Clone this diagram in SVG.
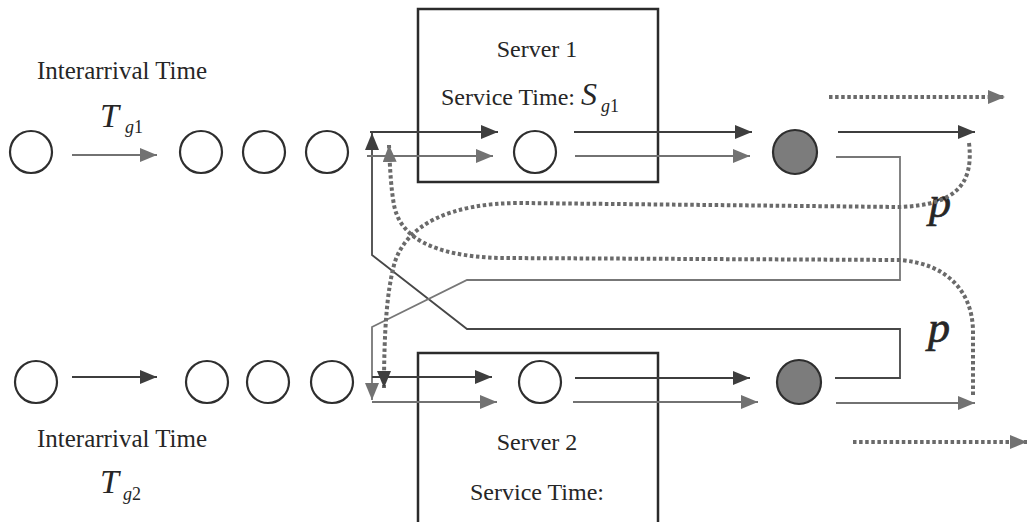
<svg xmlns="http://www.w3.org/2000/svg" width="1030" height="522" viewBox="0 0 1030 522">
<style>
.lbl{font-family:"Liberation Serif","Times New Roman",serif;font-size:24px;fill:#262626}
.ia{font-size:25px}
.math{font-family:"Liberation Serif","Times New Roman",serif;font-style:italic;fill:#262626}
.pp{stroke:#262626;stroke-width:0.7}
.up{font-style:normal}
.box{fill:none;stroke:#2b2b2b;stroke-width:2.5}
.q{fill:#fff;stroke:#2e2e2e;stroke-width:2.2}
.done{fill:#7c7c7c;stroke:#2e2e2e;stroke-width:2.2}
.dk{fill:none;stroke:#3e3e3e;stroke-width:2.2}
.gr{fill:none;stroke:#727272;stroke-width:2.2}
.thin-dk{fill:none;stroke:#474747;stroke-width:1.8}
.thin-gr{fill:none;stroke:#777;stroke-width:1.8}
.dot{fill:none;stroke:#6a6a6a;stroke-width:4;stroke-dasharray:3.5 2.6}
</style>
<defs>
<marker id="ahD" markerUnits="userSpaceOnUse" markerWidth="17" markerHeight="14" refX="17" refY="7" orient="auto"><path d="M0,0 L17,7 L0,14 z" fill="#3e3e3e"/></marker>
<marker id="ahG" markerUnits="userSpaceOnUse" markerWidth="17" markerHeight="14" refX="17" refY="7" orient="auto"><path d="M0,0 L17,7 L0,14 z" fill="#727272"/></marker>
</defs>
<rect width="1030" height="522" fill="#fff"/>

<g id="server1">
<rect class="box" x="418" y="9" width="240" height="173"/>
<text class="lbl" x="537" y="57" text-anchor="middle">Server 1</text>
<text class="lbl" x="441" y="105">Service Time: <tspan class="math" font-size="32">S</tspan><tspan class="math" font-size="18" dx="4" dy="7">g<tspan class="up">1</tspan></tspan></text>
</g>
<g id="server2">
<rect class="box" x="418" y="353" width="240" height="180"/>
<text class="lbl" x="537" y="450" text-anchor="middle">Server 2</text>
<text class="lbl" x="537" y="500" text-anchor="middle">Service Time:</text>
</g>

<g id="label-top">
<text class="lbl ia" x="37" y="79">Interarrival Time</text>
<text class="math" x="100" y="127" font-size="34">T<tspan font-size="18" dx="6" dy="6">g<tspan class="up">1</tspan></tspan></text>
</g>
<g id="label-bottom">
<text class="lbl ia" x="37" y="447">Interarrival Time</text>
<text class="math" x="100" y="493" font-size="34">T<tspan font-size="18" dx="4" dy="7">g<tspan class="up">2</tspan></tspan></text>
</g>
<g id="p-top"><text class="math pp" x="929" y="217" font-size="44">p</text></g>
<g id="p-bottom"><text class="math pp" x="928" y="342" font-size="44">p</text></g>

<g id="connectors">
<path class="gr" d="M72,155 L157,155" marker-end="url(#ahG)"/>
<path class="dk" d="M72,377 L157,377" marker-end="url(#ahD)"/>
<path class="thin-dk" d="M835,378 L900,378 L900,329 L467,329 L372,255 L372,133" marker-end="url(#ahD)"/>
<path class="dk" d="M370,132 L498,132" marker-end="url(#ahD)"/>
<path class="gr" d="M367,156 L493,156" marker-end="url(#ahG)"/>
<path class="thin-gr" d="M836,157 L900,157 L900,280 L467,280 L372,327 L372,400" marker-end="url(#ahG)"/>
<path class="dk" d="M372,377 L492,377" marker-end="url(#ahD)"/>
<path class="gr" d="M372,402 L497,402" marker-end="url(#ahG)"/>
<path class="dk" d="M574,132 L752,132" marker-end="url(#ahD)"/>
<path class="gr" d="M575,156 L750,156" marker-end="url(#ahG)"/>
<path class="dk" d="M575,378 L750,378" marker-end="url(#ahD)"/>
<path class="gr" d="M573,402 L758,402" marker-end="url(#ahG)"/>
<path class="dk" d="M838,132 L975,132" marker-end="url(#ahD)"/>
<path class="gr" d="M836,403 L975,403" marker-end="url(#ahG)"/>
<path class="dot" d="M829,97 L1005,97" marker-end="url(#ahG)"/>
<path class="dot" d="M853,442 L1027,442" marker-end="url(#ahG)"/>
<path class="dot" d="M969,143 C974,185 955,205 900,207 L520,203 C450,203 405,225 394,265 C387,292 384,330 384,388" marker-end="url(#ahD)"/>
<path class="dot" d="M973,395 L973,330 C972,292 948,264 900,260 L500,258 C430,256 400,236 394,205 C391,188 390,170 389,145" marker-end="url(#ahG)"/>
</g>

<g id="queue1">
<circle class="q" cx="31" cy="152" r="21"/>
<circle class="q" cx="201" cy="152" r="21"/>
<circle class="q" cx="264" cy="152" r="21"/>
<circle class="q" cx="327" cy="152" r="21"/>
</g>
<g id="queue2">
<circle class="q" cx="36" cy="382" r="21"/>
<circle class="q" cx="207" cy="382" r="21"/>
<circle class="q" cx="268" cy="382" r="21"/>
<circle class="q" cx="332" cy="382" r="21"/>
</g>
<g id="in-service-1"><circle class="q" cx="535" cy="152" r="21"/></g>
<g id="in-service-2"><circle class="q" cx="540" cy="382" r="21"/></g>
<g id="departed-1"><circle class="done" cx="795" cy="152" r="22"/></g>
<g id="departed-2"><circle class="done" cx="799" cy="382" r="22"/></g>
</svg>
